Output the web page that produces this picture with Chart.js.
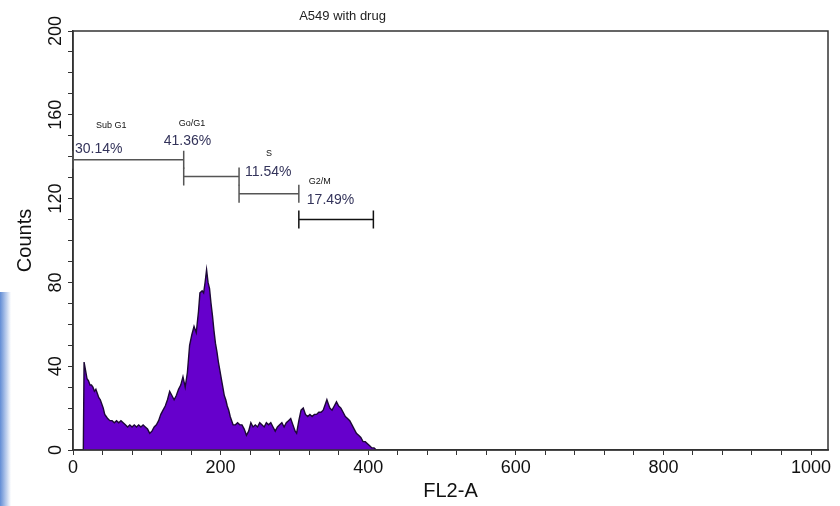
<!DOCTYPE html>
<html>
<head>
<meta charset="utf-8">
<script src="https://cdn.jsdelivr.net/npm/chart.js"></script>
<style>
  body { margin: 0; background: #fff; }
  #wrap { width: 840px; height: 506px; }
</style>
</head>
<body>
<div id="wrap"><canvas id="histChart" width="840" height="506"></canvas></div>
<script>
// FL2-A channel and counts
var channels = [14, 15, 17, 19, 21, 23, 25, 27, 29, 31, 33, 35, 37, 39, 41, 43, 45, 47, 50, 53, 56, 59, 62, 65, 68, 71, 74, 77, 80, 83, 86, 89, 92, 95, 98, 101, 104, 107, 110, 113, 116, 119, 122, 125, 128, 131, 134, 137, 140, 143, 146, 149, 152, 155, 158, 161, 164, 167, 170, 172, 175, 177, 179, 181, 183, 185, 187, 189, 191, 193, 195, 197, 199, 201, 203, 205, 207, 209, 211, 213, 215, 217, 220, 223, 226, 229, 232, 235, 238, 241, 244, 247, 250, 253, 256, 259, 262, 265, 268, 271, 274, 277, 280, 283, 286, 289, 292, 295, 298, 301, 303, 306, 309, 312, 315, 318, 321, 324, 327, 330, 333, 336, 339, 342, 344, 346, 348, 351, 354, 357, 360, 363, 366, 369, 372, 375, 378, 381, 384, 387, 390, 393, 396, 399, 402, 405, 408, 411];
var counts = [0, 42, 38, 34, 33, 31, 31, 30, 28, 29, 27, 25, 24, 22, 20, 17, 16, 15, 14, 14, 13, 14, 13, 14, 13, 12, 11, 12, 11, 12, 11, 12, 11, 12, 11, 10, 8, 9, 11, 12, 14, 17, 19, 21, 24, 28, 26, 24, 26, 29, 31, 35, 30, 37, 50, 55, 59, 56, 66, 75, 76, 75, 80, 86, 80, 77, 70, 64, 57, 51, 47, 42, 38, 34, 30, 26, 24, 21, 19, 16, 14, 12, 12, 13, 12, 12, 10, 7, 9, 13, 11, 12, 11, 13, 12, 11, 13, 12, 13, 11, 9, 11, 12, 13, 11, 13, 14, 15, 12, 9, 8, 14, 19, 20, 17, 16, 17, 16, 17, 17, 18, 18, 19, 22, 24, 22, 20, 19, 21, 23, 21, 20, 18, 16, 15, 14, 12, 10, 8, 7, 6, 4, 4, 3, 2, 1, 1, 0];

// gates (markers)
var gateNames = ["Sub G1", "Go/G1", "S", "G2/M"];
var gatePercents = ["30.14%", "41.36%", "11.54%", "17.49%"];
var gateStart = [0, 150, 225, 306];
var gateEnd = [150, 225, 306, 407];
var gateLevel = [138.6, 130.6, 122.3, 110];

var xTickLabels = [0, 200, 400, 600, 800, 1000];
var yTickLabels = [0, 40, 80, 120, 160, 200];

// label placement relative to each gate start / level (px)
var gateLabelPos = [
  { nameDx: 23, nameDy: -34, pctDx: 2, pctDy: -10 },
  { nameDx: -5, nameDy: -53, pctDx: -20, pctDy: -35 },
  { nameDx: 27, nameDy: -40, pctDx: 6, pctDy: -22 },
  { nameDx: 10, nameDy: -38, pctDx: 8, pctDy: -19 }
];

var points = channels.map(function (c, i) { return { x: c, y: counts[i] }; });

var decorPlugin = {
  id: "decor",
  beforeDraw: function (chart) {
    var ctx = chart.ctx;
    ctx.save();
    var g = ctx.createLinearGradient(0, 0, 11, 0);
    g.addColorStop(0, "rgba(70,120,205,0.85)");
    g.addColorStop(1, "rgba(70,120,205,0)");
    ctx.fillStyle = g;
    ctx.fillRect(0, 292, 11, 214);
    ctx.restore();
  },
  afterDraw: function (chart) {
    var ctx = chart.ctx;
    var a = chart.chartArea;
    var xs = chart.scales.x, ys = chart.scales.y;
    ctx.save();

    // frame
    ctx.strokeStyle = "#333";
    ctx.lineWidth = 1.5;
    ctx.strokeRect(a.left, a.top, a.right - a.left, a.bottom - a.top);

    // title
    ctx.fillStyle = "#222";
    ctx.font = "13px 'Liberation Sans', Arial, sans-serif";
    ctx.textAlign = "center";
    ctx.textBaseline = "middle";
    ctx.fillText("A549 with drug", a.left + (a.right - a.left) * 0.357, 16);

    // rotated y tick labels
    ctx.font = "18px 'Liberation Sans', Arial, sans-serif";
    ctx.fillStyle = "#111";
    yTickLabels.forEach(function (v) {
      var py = ys.getPixelForValue(v);
      ctx.save();
      ctx.translate(a.left - 17, py);
      ctx.rotate(-Math.PI / 2);
      ctx.textAlign = "center";
      ctx.textBaseline = "middle";
      ctx.fillText(String(v), 0, 0);
      ctx.restore();
    });

    // gates
    gateNames.forEach(function (name, i) {
      var x0 = xs.getPixelForValue(gateStart[i]);
      var x1 = xs.getPixelForValue(gateEnd[i]);
      var y = ys.getPixelForValue(gateLevel[i]);
      ctx.strokeStyle = i === 3 ? "#111" : "#555";
      ctx.lineWidth = 1.5;
      ctx.beginPath();
      ctx.moveTo(x0, y); ctx.lineTo(x1, y);
      ctx.moveTo(x0, y - 9); ctx.lineTo(x0, y + 9);
      ctx.moveTo(x1, y - 9); ctx.lineTo(x1, y + 9);
      ctx.stroke();

      var p = gateLabelPos[i];
      ctx.textAlign = "left";
      ctx.textBaseline = "middle";
      ctx.fillStyle = "#111";
      ctx.font = "9px 'Liberation Sans', Arial, sans-serif";
      ctx.fillText(name, x0 + p.nameDx, y + p.nameDy);
      ctx.fillStyle = "#33335a";
      ctx.font = "14px 'Liberation Sans', Arial, sans-serif";
      ctx.fillText(gatePercents[i], x0 + p.pctDx, y + p.pctDy);
    });
    ctx.restore();
  }
};

var ctx = document.getElementById("histChart").getContext("2d");

var chart = new Chart(ctx, {
  type: "line",
  data: {
    datasets: [
      {
        data: points,
        fill: "origin",
        backgroundColor: "#6600cc",
        borderColor: "#1c0836",
        borderWidth: 1.4,
        pointRadius: 0,
        tension: 0,
      },
    ],
  },
  options: {
    responsive: false,
    animation: false,
    layout: { padding: { left: 0, top: 31, right: 12, bottom: 0 } },
    plugins: {
      legend: { display: false },
      tooltip: { enabled: false },
    },
    scales: {
      x: {
        type: "linear",
        min: 0,
        max: 1023,
        border: { display: true, color: "#333", width: 1.5 },
        grid: { drawOnChartArea: false, drawTicks: true, tickLength: 5, color: "#333" },
        ticks: {
          stepSize: 40,
          includeBounds: false,
          autoSkip: false,
          maxRotation: 0,
          padding: 2,
          color: "#111",
          font: { family: "'Liberation Sans', Arial, sans-serif", size: 18 },
          callback: function (v) {
            return xTickLabels.indexOf(v) >= 0 ? String(v) : "";
          },
        },
        title: {
          display: true,
          text: "FL2-A",
          color: "#111",
          font: { family: "'Liberation Sans', Arial, sans-serif", size: 20 },
          padding: { top: 0, bottom: 3 },
        },
        afterFit: function (scale) { scale.height = 56; },
      },
      y: {
        min: 0,
        max: 200,
        border: { display: true, color: "#333", width: 1.5 },
        grid: { drawOnChartArea: false, drawTicks: true, tickLength: 5, color: "#333" },
        ticks: {
          stepSize: 10,
          display: false,
          autoSkip: false,
        },
        title: {
          display: true,
          text: "Counts",
          color: "#111",
          font: { family: "'Liberation Sans', Arial, sans-serif", size: 20 },
          padding: { top: 13, bottom: 0 },
        },
        afterFit: function (scale) { scale.width = 73; },
      },
    },
  },
  plugins: [decorPlugin],
});
</script>
</body>
</html>
